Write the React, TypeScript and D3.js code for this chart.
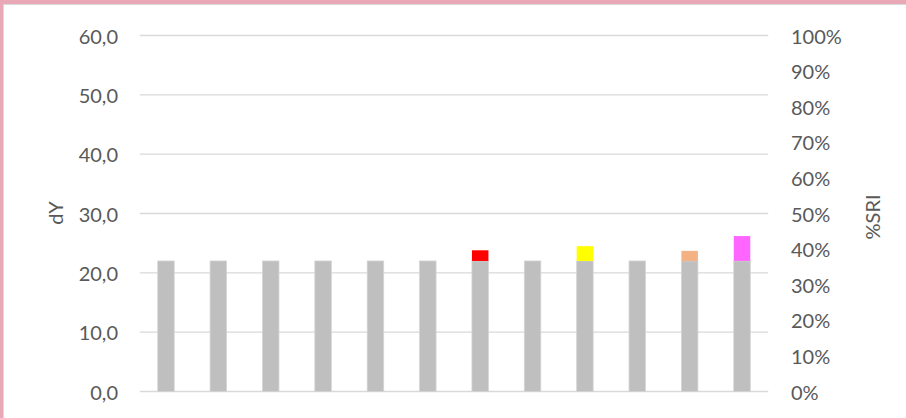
import React from 'react';
import * as d3 from 'd3';

// categories have no visible labels in the source chart
const categories = ['1', '2', '3', '4', '5', '6', '7', '8', '9', '10', '11', '12'];
const baseValues = [22.0, 22.0, 22.0, 22.0, 22.0, 22.0, 22.0, 22.0, 22.0, 22.0, 22.0, 22.0];
const extraValues = [0, 0, 0, 0, 0, 0, 1.8, 0, 2.5, 0, 1.7, 4.2];
const extraColors = ['none', 'none', 'none', 'none', 'none', 'none', '#FF0000', 'none', '#FFFF00', 'none', '#F4B183', '#FF66FF'];
const leftTicks = [0, 10, 20, 30, 40, 50, 60];
const rightTicks = [0, 0.1, 0.2, 0.3, 0.4, 0.5, 0.6, 0.7, 0.8, 0.9, 1];

const W = 906;
const H = 418;
const FONT = 'Lato, "Open Sans", sans-serif';
const LABEL = '#595959';
const GRID = '#D9D9D9';

const App: React.FC = () => {
  const x = d3.scaleBand<string>()
    .domain(categories)
    .range([139.8, 768.2])
    .paddingInner(0.685)
    .paddingOuter(0.3425);

  const y = d3.scaleLinear().domain([0, 60]).range([391.5, 35.5]);
  const yRight = d3.scaleLinear().domain([0, 1]).range([391.5, 35.5]);
  const fmtLeft = (v: number) => v.toFixed(1).replace('.', ',');
  const fmtRight = d3.format('.0%');

  return (
    <svg width={W} height={H} style={{ position: 'absolute', left: 0, top: 0, background: '#fff' }}>
      {/* frame */}
      <rect x={0} y={0} width={W} height={4} fill="#E8A8B5" />
      <rect x={0} y={0} width={3} height={H} fill="#E8A8B5" />
      <rect x={3} y={4} width={W - 3} height={1} fill={GRID} />
      <rect x={3} y={4} width={1} height={H - 4} fill={GRID} />

      {/* gridlines */}
      {leftTicks.map(t => (
        <line key={t} x1={139.8} x2={768.2} y1={y(t)} y2={y(t)} stroke={GRID} strokeWidth={1.3} />
      ))}

      {/* bars */}
      {categories.map((c, i) => (
        <g key={c}>
          <rect
            x={x(c)}
            y={y(baseValues[i])}
            width={x.bandwidth()}
            height={y(0) - y(baseValues[i])}
            fill="#BFBFBF"
            stroke="#D4D4D4"
            strokeWidth={0.8}
          />
          {extraValues[i] > 0 && (
            <rect
              x={x(c)}
              y={y(baseValues[i] + extraValues[i])}
              width={x.bandwidth()}
              height={y(baseValues[i]) - y(baseValues[i] + extraValues[i])}
              fill={extraColors[i]}
            />
          )}
        </g>
      ))}

      {/* left axis labels */}
      {leftTicks.map(t => (
        <text key={t} x={118} y={y(t)} textAnchor="end" dominantBaseline="central"
          fontFamily={FONT} fontSize={20} fill={LABEL}>{fmtLeft(t)}</text>
      ))}

      {/* right axis labels */}
      {rightTicks.map(t => (
        <text key={t} x={791} y={yRight(t)} textAnchor="start" dominantBaseline="central"
          fontFamily={FONT} fontSize={20} fill={LABEL}>{fmtRight(t)}</text>
      ))}

      {/* axis titles */}
      <text transform="translate(55,213) rotate(-90)" textAnchor="middle" dominantBaseline="central"
        fontFamily={FONT} fontSize={20} fill={LABEL}>dY</text>
      <text transform="translate(872,217) rotate(-90)" textAnchor="middle" dominantBaseline="central"
        fontFamily={FONT} fontSize={20} fill={LABEL}>%SRI</text>
    </svg>
  );
};

export default App;
